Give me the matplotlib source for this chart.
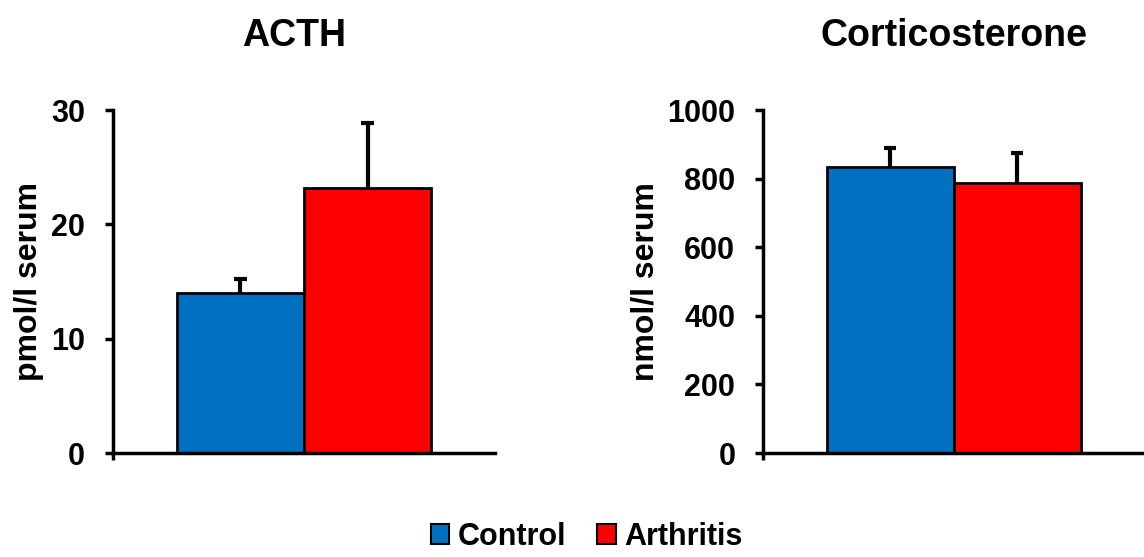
import numpy as np
import matplotlib
matplotlib.use('Agg')
import matplotlib.pyplot as plt
from matplotlib.patches import Patch

plt.rcParams['font.family'] = ['Liberation Sans', 'DejaVu Sans']
plt.rcParams['font.weight'] = 'bold'

groups = ['Control', 'Arthritis']
colors = ['#0070C0', '#FF0000']

acth_mean = [14.0, 23.2]
acth_err = [1.2, 5.7]

cort_mean = [834, 787]
cort_err = [55, 88]

fig = plt.figure(figsize=(11.44, 5.57), dpi=100)
ax1 = fig.add_axes([0.0988, 0.1867, 0.3339, 0.6158])
ax2 = fig.add_axes([0.667, 0.1867, 0.333, 0.6158])

panels = [
    (ax1, acth_mean, acth_err, 'ACTH', 'pmol/l serum', 30, 10, 0.475),
    (ax2, cort_mean, cort_err, 'Corticosterone', 'nmol/l serum', 1000, 200, 0.5),
]

x = np.arange(len(groups))
for ax, mean, err, title, ylabel, ymax, step, tx in panels:
    ax.bar(x, mean, width=1.0, color=colors, edgecolor='black', linewidth=2, zorder=2)
    top = np.array(mean) + np.array(err)
    # upper error bars only
    ax.vlines(x, mean, top, colors='black', linewidth=3, zorder=1)
    ax.hlines(top, x - 0.05, x + 0.05, colors='black', linewidth=3, zorder=1)
    ax.set_xlim(-1.0, 2.0)
    ax.set_ylim(0, ymax)
    ax.set_yticks(np.arange(0, ymax + 1, step))
    ax.set_xticks([-1.0])
    ax.set_xticklabels([''])
    ax.tick_params(axis='x', length=5, width=2.5, direction='out')
    ax.tick_params(axis='y', length=6, width=2.5, direction='out', labelsize=22, pad=14)
    for lab in ax.get_yticklabels():
        lab.set_fontweight('bold')
    ax.spines['top'].set_visible(False)
    ax.spines['right'].set_visible(False)
    ax.spines['left'].set_linewidth(2.5)
    ax.spines['bottom'].set_linewidth(2.5)
    ax.set_ylabel(ylabel, fontsize=23, fontweight='bold', labelpad=5)
    ax.set_title(title, fontsize=27, fontweight='bold', pad=46, x=tx)

handles = [Patch(facecolor=c, edgecolor='black', linewidth=1.5) for c in colors]
fig.legend(handles, groups, loc='lower center', bbox_to_anchor=(0.513, -0.04), ncol=2,
           frameon=False, prop={'size': 22, 'weight': 'bold'},
           handlelength=0.6, handleheight=0.6, handletextpad=0.3, columnspacing=1.0)

fig.savefig('out.png', dpi=100)
